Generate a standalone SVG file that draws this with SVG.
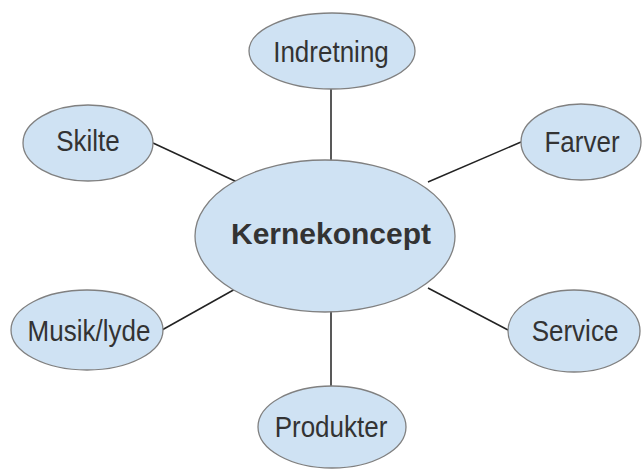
<svg xmlns="http://www.w3.org/2000/svg" width="643" height="470" viewBox="0 0 643 470">
<style>
.n{fill:#cfe2f3;stroke:#808080;stroke-width:1.3}
.t{font-family:"Liberation Sans",Arial,sans-serif;font-size:26px;fill:#333;text-anchor:middle}
.b{font-weight:bold;font-size:30px}
.c line{stroke:#222;stroke-width:1.5}
</style>
<rect width="643" height="470" fill="#fff"/>
<g class="c" id="connectors">
<line x1="331" y1="89" x2="331" y2="161"/>
<line x1="153" y1="143" x2="237" y2="182"/>
<line x1="521" y1="142" x2="428" y2="182"/>
<line x1="162" y1="330" x2="237" y2="288"/>
<line x1="508" y1="330" x2="428" y2="288"/>
<line x1="331" y1="311" x2="331" y2="386"/>
</g>
<g id="kernekoncept"><ellipse class="n" cx="325" cy="236" rx="130" ry="76"/><text class="t b" x="331" y="244">Kernekoncept</text></g>
<g id="indretning"><ellipse class="n" cx="332" cy="51" rx="83" ry="38"/><text class="t" transform="translate(331,62) scale(1,1.1)">Indretning</text></g>
<g id="skilte"><ellipse class="n" cx="88" cy="143" rx="65" ry="38"/><text class="t" transform="translate(88,151) scale(1,1.1)">Skilte</text></g>
<g id="farver"><ellipse class="n" cx="581" cy="142" rx="60" ry="38"/><text class="t" transform="translate(582,152) scale(1,1.1)">Farver</text></g>
<g id="musik"><ellipse class="n" cx="87" cy="330" rx="76" ry="40"/><text class="t" transform="translate(89,341) scale(1,1.1)">Musik/lyde</text></g>
<g id="service"><ellipse class="n" cx="574" cy="331" rx="66" ry="41"/><text class="t" transform="translate(575,341) scale(1,1.1)">Service</text></g>
<g id="produkter"><ellipse class="n" cx="332" cy="427" rx="74" ry="41"/><text class="t" transform="translate(331,437) scale(1,1.1)">Produkter</text></g>
</svg>
